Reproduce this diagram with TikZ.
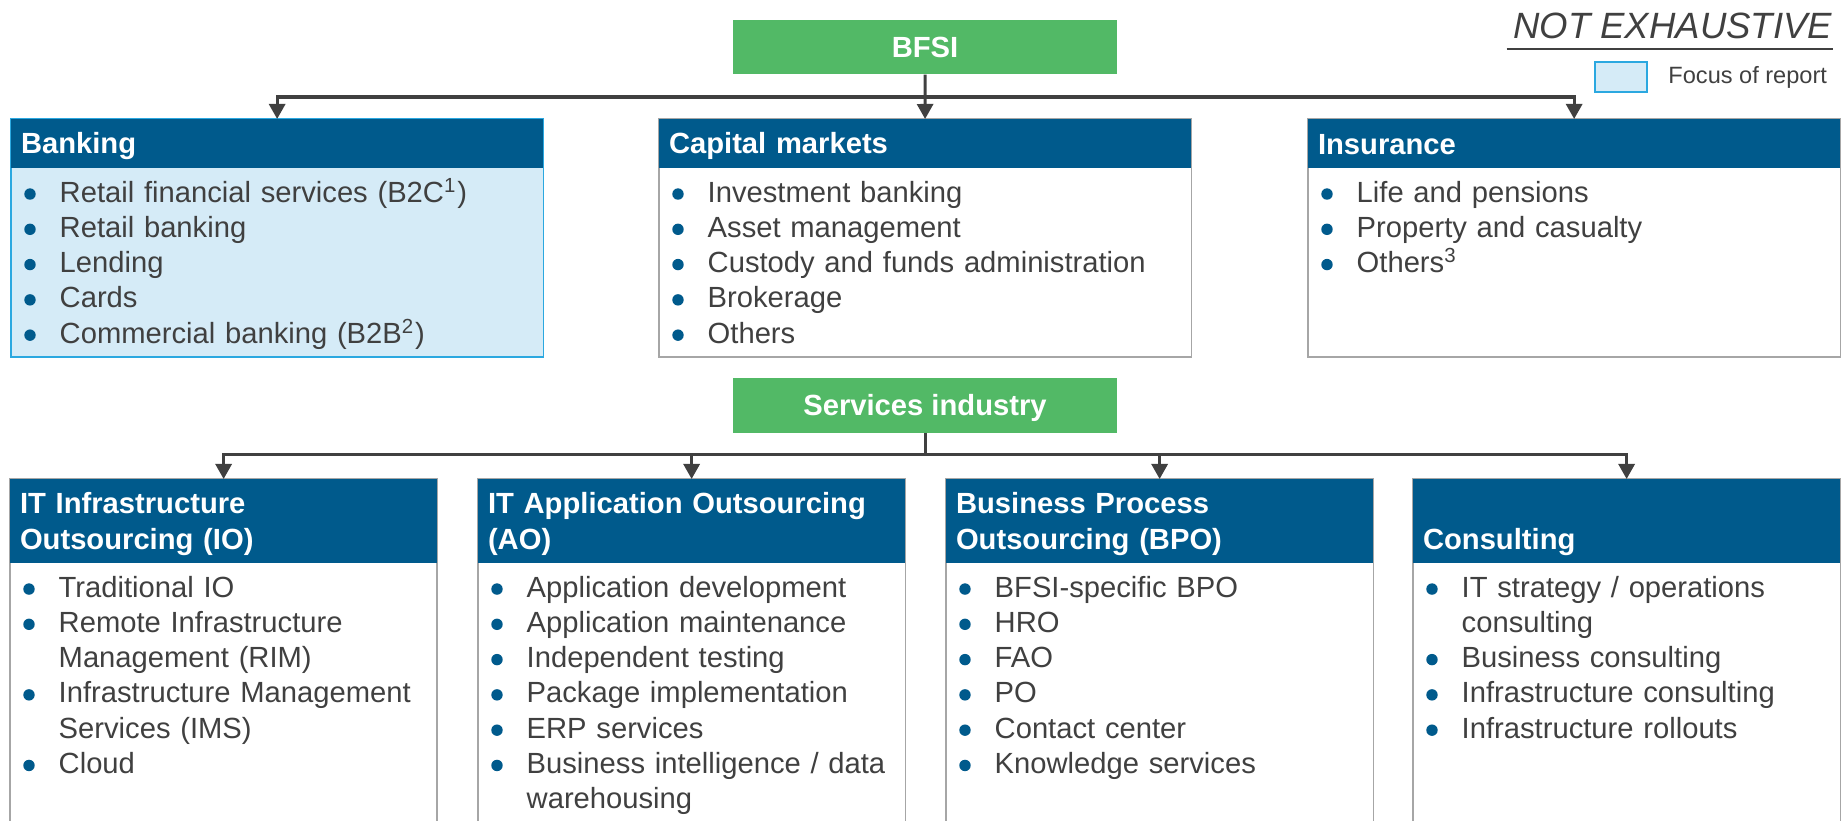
\documentclass[tikz,border=0pt]{standalone}
\usepackage{fontspec}
\setmainfont{Liberation Sans}
\usetikzlibrary{%
  arrows.meta,% Triangle tips
  positioning,% right=of
  calc%
}
\definecolor{hdrblue}{HTML}{005A8C}
\definecolor{grn}{HTML}{52B966}
\definecolor{txtgray}{HTML}{404040}
\definecolor{focusfill}{HTML}{D5EBF7}
\definecolor{focusline}{HTML}{2BA8E0}
\definecolor{boxgray}{HTML}{A6A6A6}

\newcommand{\hstrut}{\rule[-1.25pt]{0pt}{8.75pt}}

\tikzset{
  grnbox/.style={fill=grn, text=white, font=\bfseries\fontsize{8.3}{10.24}\selectfont,
    minimum width=3.84cm, minimum height=0.54cm, text height=5.95pt, text depth=0pt, inner sep=0},
  hdr/.style={fill=hdrblue, text=white, font=\bfseries\fontsize{8.3}{10.24}\selectfont,
    align=left, anchor=north west, inner xsep=0.1cm, inner ysep=0, outer sep=0},
  tophdr/.style={hdr, text width=5.12cm, minimum width=5.32cm, minimum height=0.49cm},
  bothdr/.style={hdr, text width=4.07cm, minimum width=4.27cm, minimum height=0.84cm},
  bodybox/.style={draw=boxgray, fill=white, line width=0.015cm, anchor=north west,
    inner sep=0, outer sep=0},
  topbody/.style={bodybox, minimum width=5.32cm, minimum height=2.38cm},
  botbody/.style={bodybox, minimum width=4.27cm, minimum height=3.6cm},
  itemlist/.style={anchor=base west, align=left, inner sep=0, text=txtgray,
    font=\fontsize{8.3}{10.04}\selectfont},
  toplist/.style={itemlist, text width=4.8cm},
  botlist/.style={itemlist, text width=3.75cm},
  bul/.style={fill=hdrblue},
  arr/.style={draw=txtgray, line width=0.03cm, -{Triangle[width=0.16cm,length=0.15cm]}},
  conn/.style={draw=txtgray, line width=0.03cm}
}

\begin{document}
\begin{tikzpicture}[x=0.01cm, y=-0.01cm]
\useasboundingbox (0,0) rectangle (1847,821);
\clip (0,0) rectangle (1847,821);

% top row
\node[grnbox] (bfsi) at (925,47) {BFSI};
\coordinate (tbus) at (925,97);

\node[topbody, draw=focusline, fill=focusfill] (bankbody) at (11,119) {};
\node[tophdr] (bank) at (bankbody.north west) {\hstrut Banking};
\node[toplist] (banklist) at ([shift={(48,34)}]bank.south west) {%
  Retail financial services (B2C\textsuperscript{1})\\
  Retail banking\\
  Lending\\
  Cards\\
  Commercial banking (B2B\textsuperscript{2})};
\foreach \i in {0,...,4}
  \fill[bul] ([shift={(19,26+35.28*\i)}]bank.south west) circle[radius=0.057cm];

\node[topbody] (capmbody) at (659,119) {};
\node[tophdr] (capm) at (capmbody.north west) {\hstrut Capital markets};
\node[toplist] (capmlist) at ([shift={(48,34)}]capm.south west) {%
  Investment banking\\
  Asset management\\
  Custody and funds administration\\
  Brokerage\\
  Others};
\foreach \i in {0,...,4}
  \fill[bul] ([shift={(19,26+35.28*\i)}]capm.south west) circle[radius=0.057cm];

\node[topbody] (insbody) at (1308,119) {};
\node[tophdr] (ins) at (insbody.north west) {\hstrut Insurance};
\node[toplist] (inslist) at ([shift={(48,34)}]ins.south west) {%
  Life and pensions\\
  Property and casualty\\
  Others\textsuperscript{3}};
\foreach \i in {0,...,2}
  \fill[bul] ([shift={(19,26+35.28*\i)}]ins.south west) circle[radius=0.057cm];

\draw[arr] (bfsi) -- (capm);
\draw[arr] (tbus) -| (bank);
\draw[arr] (tbus) -| (ins);

% bottom row
\node[grnbox] (serv) at (925,405.5) {Services industry};
\coordinate (sbus) at (925,454);

\node[botbody] (iobody) at (10,479) {};
\node[bothdr] (io) at (iobody.north west) {\hstrut IT Infrastructure\\\hstrut Outsourcing (IO)};
\node[botlist] (iolist) at ([shift={(48,34)}]io.south west) {%
  Traditional IO\\
  Remote Infrastructure\\
  Management (RIM)\\
  Infrastructure Management\\
  Services (IMS)\\
  Cloud};
\foreach \i in {0,1,3,5}
  \fill[bul] ([shift={(19,26+35.28*\i)}]io.south west) circle[radius=0.057cm];

\node[botbody] (aobody) at (478,479) {};
\node[bothdr] (ao) at (aobody.north west) {\hstrut IT Application Outsourcing\\\hstrut (AO)};
\node[botlist] (aolist) at ([shift={(48,34)}]ao.south west) {%
  Application development\\
  Application maintenance\\
  Independent testing\\
  Package implementation\\
  ERP services\\
  Business intelligence / data\\
  warehousing};
\foreach \i in {0,...,5}
  \fill[bul] ([shift={(19,26+35.28*\i)}]ao.south west) circle[radius=0.057cm];

\node[botbody] (bpobody) at (946,479) {};
\node[bothdr] (bpo) at (bpobody.north west) {\hstrut Business Process\\\hstrut Outsourcing (BPO)};
\node[botlist] (bpolist) at ([shift={(48,34)}]bpo.south west) {%
  BFSI-specific BPO\\
  HRO\\
  FAO\\
  PO\\
  Contact center\\
  Knowledge services};
\foreach \i in {0,...,5}
  \fill[bul] ([shift={(19,26+35.28*\i)}]bpo.south west) circle[radius=0.057cm];

\node[botbody] (consbody) at (1413,479) {};
\node[bothdr] (cons) at (consbody.north west) {\hstrut\\\hstrut Consulting};
\node[botlist] (conslist) at ([shift={(48,34)}]cons.south west) {%
  IT strategy / operations\\
  consulting\\
  Business consulting\\
  Infrastructure consulting\\
  Infrastructure rollouts};
\foreach \i in {0,2,3,4}
  \fill[bul] ([shift={(19,26+35.28*\i)}]cons.south west) circle[radius=0.057cm];

\draw[conn] (serv) -- (sbus);
\draw[arr] (sbus) -| (io);
\draw[arr] (sbus) -| (ao);
\draw[arr] (sbus) -| (bpo);
\draw[arr] (sbus) -| (cons);

% legend
\node[anchor=base east, inner sep=0, text=txtgray,
  font=\itshape\fontsize{10.4}{12}\selectfont] (notex) at (1833,38) {NOT EXHAUSTIVE};
\draw[txtgray, line width=0.02cm] ([xshift=-0.06cm,yshift=-0.11cm]notex.base west)
  -- ([yshift=-0.11cm]notex.base east);
\node[draw=focusline, fill=focusfill, line width=0.015cm, minimum width=0.52cm,
  minimum height=0.3cm, inner sep=0] (focus) at (1621,77) {};
\node[right=0.2cm of focus, inner sep=0, text=txtgray,
  font=\fontsize{6.7}{8}\selectfont] (focustxt) {Focus of report};
\end{tikzpicture}
\end{document}
